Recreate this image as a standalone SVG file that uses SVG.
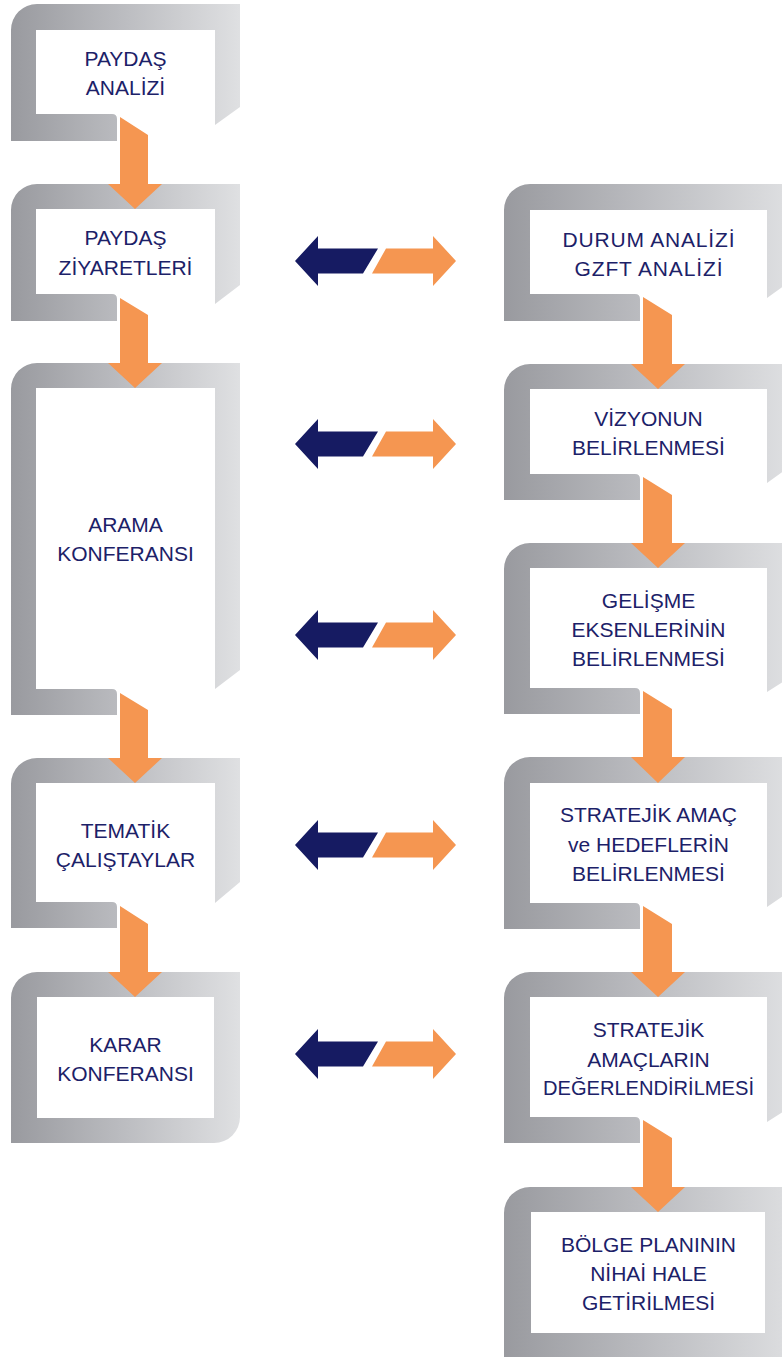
<svg xmlns="http://www.w3.org/2000/svg" width="782" height="1357" viewBox="0 0 782 1357">
<defs>
<linearGradient id="gr" x1="0" y1="0" x2="1" y2="0">
<stop offset="0" stop-color="#999a9f"/>
<stop offset="0.5" stop-color="#bcbdc1"/>
<stop offset="1" stop-color="#dfe0e2"/>
</linearGradient>
</defs>
<style>
.frame{fill:url(#gr)}
.t{font-family:"Liberation Sans","Noto Sans",Arial,sans-serif;font-size:21px;fill:#1c2168;text-anchor:middle}
.navy{fill:#161b62}
.orange{fill:#f59651}
</style>
<rect width="782" height="1357" fill="#ffffff"/>

<g id="paydas-analizi">
<path class="frame" d="M11,141 L11,30 A26,26 0 0 1 37,4 L240,4 L240,107 L215,125 L215,30 L36,30 L36,114 L112,114 Q117,114 117,119 L117,141 Z"/>
<text class="t" x="125.5" y="66">PAYDAŞ</text>
<text class="t" x="125.5" y="95">ANALİZİ</text>
</g>

<g id="paydas-ziyaretleri">
<path class="frame" d="M11,321 L11,210 A26,26 0 0 1 37,184 L240,184 L240,285 L215,304 L215,209 L36,209 L36,294 L112,294 Q117,294 117,299 L117,321 Z"/>
<text class="t" x="125.5" y="245">PAYDAŞ</text>
<text class="t" x="125.5" y="275">ZİYARETLERİ</text>
</g>

<g id="arama-konferansi">
<path class="frame" d="M11,715 L11,389 A26,26 0 0 1 37,363 L240,363 L240,670 L215,689 L215,388 L36,388 L36,689 L112,689 Q117,689 117,694 L117,715 Z"/>
<text class="t" x="125.5" y="532">ARAMA</text>
<text class="t" x="125.5" y="561">KONFERANSI</text>
</g>

<g id="tematik-calistaylar">
<path class="frame" d="M11,928 L11,784 A26,26 0 0 1 37,758 L240,758 L240,882 L215,903 L215,783 L36,783 L36,902 L112,902 Q117,902 117,907 L117,928 Z"/>
<text class="t" x="125.5" y="838">TEMATİK</text>
<text class="t" x="125.5" y="867">ÇALIŞTAYLAR</text>
</g>

<g id="karar-konferansi">
<path class="frame" fill-rule="evenodd" d="M11,1143 L11,998 A26,26 0 0 1 37,972 L240,972 L240,1117 A26,26 0 0 1 214,1143 Z M37,997 L37,1118 L214,1118 L214,997 Z"/>
<text class="t" x="125.5" y="1052">KARAR</text>
<text class="t" x="125.5" y="1081">KONFERANSI</text>
</g>

<g id="durum-analizi">
<path class="frame" d="M504,321 L504,210 A26,26 0 0 1 530,184 L792,184 L792,280 L767,298 L767,210 L530,210 L530,294 L635,294 Q640,294 640,299 L640,321 Z"/>
<text class="t" x="648.5" y="247" textLength="172" lengthAdjust="spacing">DURUM ANALİZİ</text>
<text class="t" x="648.5" y="276" textLength="148" lengthAdjust="spacing">GZFT ANALİZİ</text>
</g>

<g id="vizyonun-belirlenmesi">
<path class="frame" d="M504,500 L504,390 A26,26 0 0 1 530,364 L792,364 L792,465 L767,483 L767,389 L530,389 L530,474 L635,474 Q640,474 640,479 L640,500 Z"/>
<text class="t" x="648.5" y="426">VİZYONUN</text>
<text class="t" x="648.5" y="455">BELİRLENMESİ</text>
</g>

<g id="gelisme-eksenleri">
<path class="frame" d="M504,714 L504,569 A26,26 0 0 1 530,543 L792,543 L792,676 L767,692 L767,568 L530,568 L530,688 L635,688 Q640,688 640,693 L640,714 Z"/>
<text class="t" x="648.5" y="608">GELİŞME</text>
<text class="t" x="648.5" y="637">EKSENLERİNİN</text>
<text class="t" x="648.5" y="666">BELİRLENMESİ</text>
</g>

<g id="stratejik-amac-hedefler">
<path class="frame" d="M504,929 L504,783 A26,26 0 0 1 530,757 L792,757 L792,890 L767,907 L767,783 L530,783 L530,903 L635,903 Q640,903 640,908 L640,929 Z"/>
<text class="t" x="648.5" y="822">STRATEJİK AMAÇ</text>
<text class="t" x="648.5" y="852">ve HEDEFLERİN</text>
<text class="t" x="648.5" y="881">BELİRLENMESİ</text>
</g>

<g id="stratejik-amaclarin-degerlendirilmesi">
<path class="frame" d="M504,1143 L504,998 A26,26 0 0 1 530,972 L792,972 L792,1106 L767,1122 L767,997 L530,997 L530,1117 L635,1117 Q640,1117 640,1122 L640,1143 Z"/>
<text class="t" x="648.5" y="1037">STRATEJİK</text>
<text class="t" x="648.5" y="1067">AMAÇLARIN</text>
<text class="t" x="648.5" y="1095" textLength="211" lengthAdjust="spacingAndGlyphs">DEĞERLENDİRİLMESİ</text>
</g>

<g id="bolge-plani-nihai">
<path class="frame" fill-rule="evenodd" d="M504,1400 L504,1213 A26,26 0 0 1 530,1187 L800,1187 L800,1400 Z M531,1212 L531,1333 L765,1333 L765,1212 Z"/>
<text class="t" x="648.5" y="1252">BÖLGE PLANININ</text>
<text class="t" x="648.5" y="1281">NİHAİ HALE</text>
<text class="t" x="648.5" y="1310">GETİRİLMESİ</text>
</g>

<g id="connectors">
<polygon class="orange" points="120,117 148,135 148,184 162,184 135,209 108,184 120,184"/>
<polygon class="orange" points="120,298 148,315 148,363 162,363 135,388 108,363 120,363"/>
<polygon class="orange" points="120,693 148,710 148,758 162,758 135,783 108,758 120,758"/>
<polygon class="orange" points="120,906 148,924 148,972 162,972 135,997 108,972 120,972"/>
<polygon class="orange" points="643,297 672,315 672,364 685,364 658,389 631,364 643,364"/>
<polygon class="orange" points="643,477 672,495 672,543 685,543 658,568 631,543 643,543"/>
<polygon class="orange" points="643,691 672,709 672,757 685,757 658,783 631,757 643,757"/>
<polygon class="orange" points="643,906 672,924 672,972 685,972 658,997 631,972 643,972"/>
<polygon class="orange" points="643,1120 672,1138 672,1187 685,1187 658,1212 631,1187 643,1187"/>
<g transform="translate(0,261)">
<polygon class="navy" points="295,0 318,-25 318,-12.5 378,-12.5 363,12.5 318,12.5 318,25"/>
<polygon class="orange" points="386,-12.5 433,-12.5 433,-25 456,0 433,25 433,12.5 372,12.5"/>
</g>
<g transform="translate(0,444)">
<polygon class="navy" points="295,0 318,-25 318,-12.5 378,-12.5 363,12.5 318,12.5 318,25"/>
<polygon class="orange" points="386,-12.5 433,-12.5 433,-25 456,0 433,25 433,12.5 372,12.5"/>
</g>
<g transform="translate(0,635)">
<polygon class="navy" points="295,0 318,-25 318,-12.5 378,-12.5 363,12.5 318,12.5 318,25"/>
<polygon class="orange" points="386,-12.5 433,-12.5 433,-25 456,0 433,25 433,12.5 372,12.5"/>
</g>
<g transform="translate(0,845)">
<polygon class="navy" points="295,0 318,-25 318,-12.5 378,-12.5 363,12.5 318,12.5 318,25"/>
<polygon class="orange" points="386,-12.5 433,-12.5 433,-25 456,0 433,25 433,12.5 372,12.5"/>
</g>
<g transform="translate(0,1054)">
<polygon class="navy" points="295,0 318,-25 318,-12.5 378,-12.5 363,12.5 318,12.5 318,25"/>
<polygon class="orange" points="386,-12.5 433,-12.5 433,-25 456,0 433,25 433,12.5 372,12.5"/>
</g>
</g>
</svg>
